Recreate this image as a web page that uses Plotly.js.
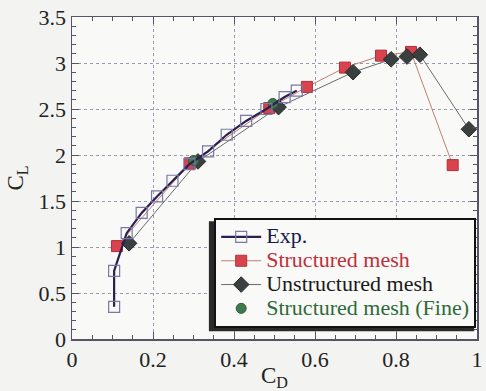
<!DOCTYPE html>
<html>
<head>
<meta charset="utf-8">
<script src="https://cdn.plot.ly/plotly-3.0.1.min.js"></script>
<style>html,body{margin:0;padding:0;background:#f3f3f1;}#chart{width:486px;height:391px;}</style>
</head>
<body>
<div id="chart"></div>
<script>
// Experimental data
var expCD = [0.104, 0.104, 0.135, 0.172, 0.21, 0.248, 0.29, 0.336, 0.382, 0.43, 0.48, 0.525, 0.555];
var expCL = [0.35, 0.74, 1.15, 1.37, 1.55, 1.72, 1.90, 2.04, 2.22, 2.37, 2.50, 2.63, 2.70];
// Structured mesh
var strCD = [0.111, 0.291, 0.487, 0.58, 0.674, 0.763, 0.837, 0.94];
var strCL = [1.01, 1.91, 2.51, 2.74, 2.95, 3.08, 3.12, 1.89];
// Unstructured mesh
var unsCD = [0.141, 0.311, 0.51, 0.694, 0.788, 0.827, 0.859, 0.98];
var unsCL = [1.04, 1.93, 2.52, 2.90, 3.04, 3.07, 3.09, 2.28];
// Structured mesh (Fine)
var fineCD = [0.30, 0.496];
var fineCL = [1.94, 2.56];

var xTicks = [0, 0.2, 0.4, 0.6, 0.8, 1];
var xLabels = ['0', '0.2', '0.4', '0.6', '0.8', '1'];
var yTicks = [0, 0.5, 1, 1.5, 2, 2.5, 3, 3.5];
var yLabels = ['0', '0.5', '1', '1.5', '2', '2.5', '3', '3.5'];

var serif = 'Liberation Serif';
function lab(txt, col) { return '<span style="color:' + col + ';font-size:22px">' + txt + '</span>'; }

var traces = [
  {x: strCD, y: strCL, mode: 'lines+markers', legendrank: 2,
   name: lab('Structured mesh', '#c0303a'),
   line: {color: '#c08070', width: 1},
   marker: {symbol: 'square', size: 11, color: '#d9434d', line: {color: '#b03038', width: 1}}},
  {x: unsCD, y: unsCL, mode: 'lines+markers', legendrank: 3,
   name: lab('Unstructured mesh', '#1a1a1a'),
   line: {color: '#6a6a6a', width: 1},
   marker: {symbol: 'diamond', size: 12, color: '#3a4040', line: {color: '#2a2a2a', width: 1}}},
  {x: fineCD, y: fineCL, mode: 'markers', legendrank: 4,
   name: lab('Structured mesh (Fine)', '#2e6a3a'),
   marker: {symbol: 'circle', size: 10, color: '#3f7a4c', line: {color: '#2e5a38', width: 1}}},
  {x: expCD, y: expCL, mode: 'lines+markers', legendrank: 1,
   name: lab('Exp.', '#1a1a4a'),
   line: {color: '#2a1f50', width: 2.2},
   marker: {symbol: 'square-open', size: 11, color: '#7a78a8', line: {width: 1.2}}}
];

var axisCommon = {
  showline: true, linecolor: '#555566', linewidth: 1.5, mirror: 'ticks',
  ticks: 'inside', ticklen: 7, tickcolor: '#555566', tickwidth: 1,
  showgrid: true, gridcolor: '#9a9ab4', griddash: 'dot', gridwidth: 1,
  zeroline: false, tickfont: {family: serif, size: 22, color: '#222222'}
};

var layout = {
  width: 486, height: 391,
  margin: {l: 72, r: 9, t: 17, b: 52},
  paper_bgcolor: '#f3f3f1', plot_bgcolor: '#f9f9f7',
  showlegend: true,
  xaxis: Object.assign({}, axisCommon, {
    range: [0, 1], tickmode: 'array', tickvals: xTicks, ticktext: xLabels,
    minor: {dtick: 0.05, ticks: 'inside', ticklen: 4, tickcolor: '#555566', showgrid: false},
    title: {text: 'C<sub>D</sub>', font: {family: serif, size: 23, color: '#222222'}, standoff: 0}
  }),
  yaxis: Object.assign({}, axisCommon, {
    range: [0, 3.5], tickmode: 'array', tickvals: yTicks, ticktext: yLabels,
    minor: {dtick: 0.1, ticks: 'inside', ticklen: 4, tickcolor: '#555566', showgrid: false},
    title: {text: 'C<sub>L</sub>', font: {family: serif, size: 23, color: '#222222'}, standoff: 8}
  }),
  legend: {
    x: 0.998, xanchor: 'right', y: 0.034, yanchor: 'bottom',
    bgcolor: '#f9f9f7', bordercolor: '#111111', borderwidth: 2,
    font: {family: serif, size: 16, color: '#111111'},
    tracegroupgap: 0, itemwidth: 40
  },
  shapes: [
    {type: 'rect', xref: 'paper', yref: 'paper', x0: 0.338, x1: 0.993, y0: 0.024, y1: 0.366,
     fillcolor: '#2a2a2a', line: {width: 0}, layer: 'above'}
  ]
};

Plotly.newPlot('chart', traces, layout, {displayModeBar: false, staticPlot: true});
</script>
</body>
</html>
